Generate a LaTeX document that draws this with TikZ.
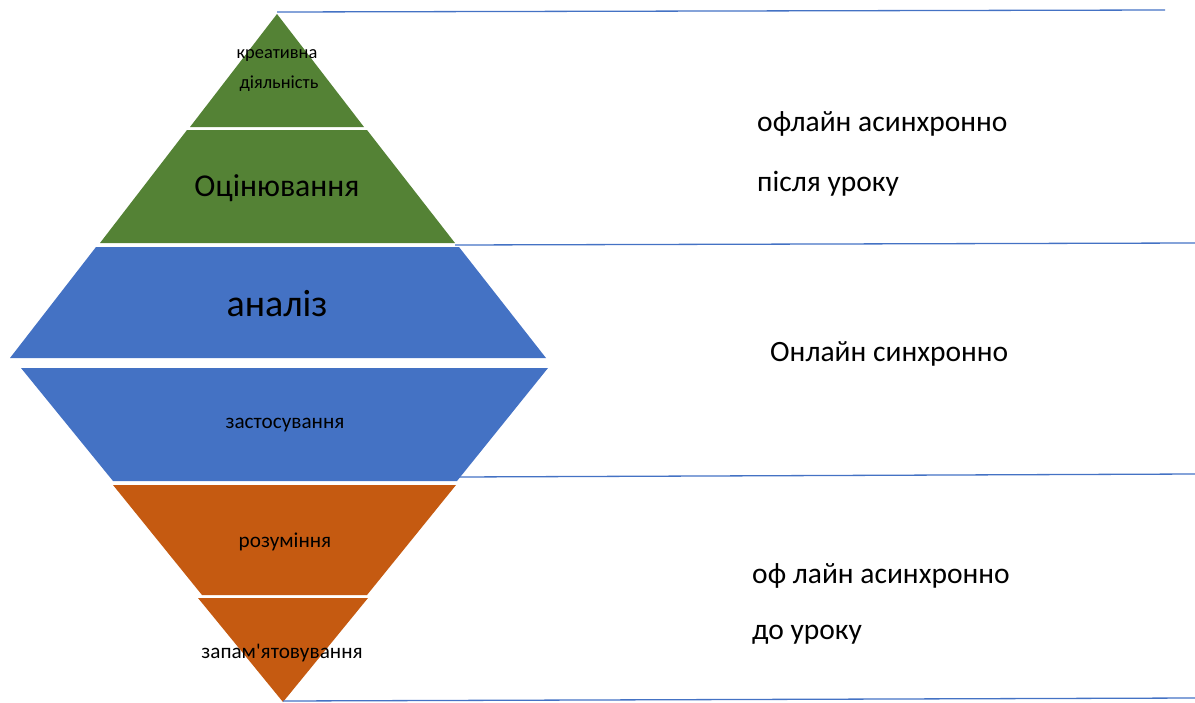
\documentclass[tikz,border=0pt]{standalone}
\usepackage{fontspec}
\setmainfont{Carlito}
\setmonofont{Carlito}
\definecolor{pgreen}{HTML}{548235}
\definecolor{pblue}{HTML}{4472C4}
\definecolor{porange}{HTML}{C55A11}
\begin{document}
\begin{tikzpicture}[x=1pt,y=-1pt,
  sep/.style={draw=pblue,line width=1.3pt},
  lbl/.style={inner sep=0pt,text=black},
  side/.style={inner sep=0pt,anchor=west,text=black,font=\fontsize{29.5}{34}\selectfont}]
\useasboundingbox (0,0) rectangle (1195,702);
% green
\fill[pgreen] (277,14) -- (364,127) -- (190,127) -- cycle;
\fill[pgreen] (187,130) -- (367,130) -- (455,243) -- (100,243) -- cycle;
% blue
\fill[pblue] (96,247) -- (459,247) -- (546,358) -- (10,358) -- cycle;
\fill[pblue] (21,368) -- (548,368) -- (457,481) -- (113,481) -- cycle;
% orange
\fill[porange] (113,485) -- (456,485) -- (367,595) -- (202,595) -- cycle;
\fill[porange] (198,598) -- (368,598) -- (283,702) -- cycle;
% separators
\coordinate (l1a) at (277,12); \coordinate (l1b) at (1165,10);
\coordinate (l2a) at (455,245); \coordinate (l2b) at (1195,243);
\coordinate (l3a) at (458,477); \coordinate (l3b) at (1195,474);
\coordinate (l4a) at (283,701); \coordinate (l4b) at (1195,698);
\draw[sep] (l1a) -- (l1b);
\draw[sep] (l2a) -- (l2b);
\draw[sep] (l3a) -- (l3b);
\draw[sep] (l4a) -- (l4b);
% labels in pyramid
\node[lbl,font=\fontsize{18.4}{22}\selectfont] (t1) at (277,56) {креативна};
\node[lbl,font=\fontsize{18.4}{22}\selectfont] (t2) at (279,84) {діяльність};
\node[lbl,font=\fontsize{31.8}{36}\selectfont] (t3) at (277,188) {Оцінювання};
\node[lbl,font=\fontsize{38}{42}\selectfont] (t4) at (277,304) {аналіз};
\node[lbl,font=\fontsize{21.2}{25}\selectfont] (t5) at (285,425) {застосування};
\node[lbl,font=\fontsize{21.2}{25}\selectfont] (t6) at (285,542) {розуміння};
\node[lbl,font=\ttfamily\fontsize{21.2}{25}\selectfont] (t7) at (282,653) {запам'ятовування};
% side labels
\node[side] (s1) at (757,124) {офлайн асинхронно};
\node[side] (s2) at (757,184) {після уроку};
\node[side] (s3) at (770,354) {Онлайн синхронно};
\node[side] (s4) at (752,576) {оф лайн асинхронно};
\node[side] (s5) at (752,635) {до уроку};
\end{tikzpicture}
\end{document}
